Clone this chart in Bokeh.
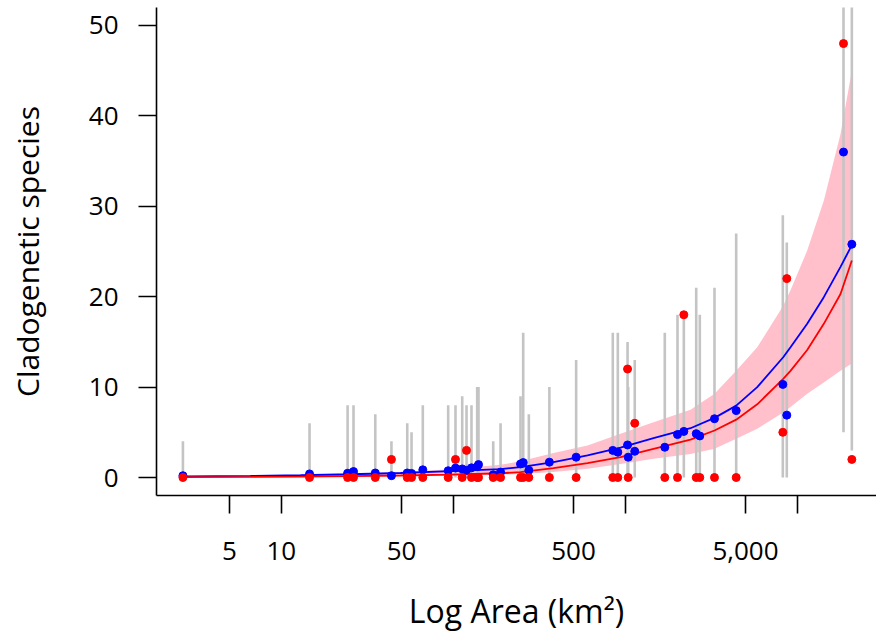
from bokeh.plotting import figure
from bokeh.models import Range1d, FixedTicker
from bokeh.embed import file_html
from bokeh.resources import INLINE

# ---- island data (area km2, observed / predicted cladogenetic species, interval) ----
area = [2.68, 14.6, 24.3, 26.3, 35.2, 43.7, 54.0, 57.2, 66.5, 93.4,
        103, 112.7, 119.4, 127.6, 137.7, 140.2, 170.7, 188.3, 246, 255,
        275, 362, 518, 846, 905, 1031, 1040, 1135, 1697, 2012,
        2190, 2585, 2712, 3301, 4414, 8240, 8690, 18570, 20760]
observed = [0, 0, 0, 0, 0, 2, 0, 0, 0, 0,
            2, 0, 3, 0, 0, 0, 0, 0, 0, 0,
            0, 0, 0, 0, 0, 12, 0, 6, 0, 0,
            18, 0, 0, 0, 0, 5, 22, 48, 2]
predicted = [0.2, 0.4, 0.47, 0.66, 0.5, 0.2, 0.5, 0.45, 0.85, 0.75,
             1.05, 0.95, 0.8, 1.07, 1.2, 1.43, 0.3, 0.6, 1.5, 1.65,
             0.8, 1.7, 2.25, 3.0, 2.8, 3.6, 2.25, 2.9, 3.35, 4.75,
             5.1, 4.85, 4.6, 6.5, 7.4, 10.3, 6.9, 36, 25.8]
interval_low = [0, 0, 0, 0, 0, 0, 0, 0, 0, 0,
                0, 0, 0, 0, 0, 0, 0, 0, 0, 0,
                0, 0, 0, 0, 0, 0, 0, 0, 0, 0,
                0, 0, 0, 0, 0, 0, 0, 5, 3]
interval_high = [4, 6, 8, 8, 7, 4, 6, 5, 8, 8,
                 8, 9, 8, 8, 10, 10, 4, 6, 9, 16,
                 7, 10, 13, 16, 16, 15, 10, 13, 16, 18,
                 18, 21, 18, 21, 27, 29, 26, 60, 60]

# ---- fitted curves and confidence band ----
curve_area = [2.666, 6.62, 12.94, 25.26, 49.33, 96.3, 188.2, 245.9, 382.5, 603.3,
              938.2, 1459, 2394, 3302, 4415, 5849, 8283, 9132, 11420, 14262,
              17840, 20760]
fit_blue = [0.12, 0.17, 0.25, 0.36, 0.5, 0.7, 0.92, 1.15, 1.7, 2.45,
            3.3, 4.35, 5.45, 6.6, 7.95, 10.0, 13.3, 14.4, 17.0, 19.95,
            23.3, 25.7]
fit_red = [0.05, 0.07, 0.1, 0.15, 0.22, 0.33, 0.47, 0.59, 1.03, 1.58,
           2.25, 3.17, 4.2, 5.2, 6.4, 8.1, 10.9, 11.8, 14.1, 17.0,
           20.3, 24.0]
band_high = [0.1, 0.18, 0.27, 0.4, 0.6, 0.9, 1.4, 1.8, 2.7, 3.54,
             4.83, 6.1, 7.5, 9.26, 11.8, 14.4, 19.0, 20.7, 25.1, 30.6,
             38.0, 45.0]
band_low = [0.03, 0.04, 0.06, 0.09, 0.13, 0.2, 0.3, 0.4, 0.6, 0.96,
            1.5, 2.07, 2.6, 3.17, 4.28, 5.4, 7.2, 7.8, 9.26, 10.5,
            11.8, 12.6]

x_ticks = [5, 10, 50, 100, 500, 1000, 5000, 10000]
x_tick_labels = ["5", "10", "50", "", "500", "", "5,000", ""]
y_ticks = [0, 10, 20, 30, 40, 50]

FONT = "Open Sans"

p = figure(width=876, height=634, x_axis_type="log",
           x_range=Range1d(1.8817, 28880), y_range=Range1d(-1.99, 51.99),
           output_backend="svg", toolbar_location=None,
           min_border_left=156, min_border_right=0, min_border_top=7,
           min_border_bottom=139)
p.outline_line_color = None
p.grid.visible = False
p.background_fill_color = "white"

p.varea(x=curve_area, y1=band_low, y2=band_high, fill_color="#ffc0cb")
p.segment(x0=area, y0=interval_low, x1=area, y1=interval_high,
          line_color="#c4c4c4", line_width=2.6)
p.line(curve_area, fit_blue, line_color="#0000ff", line_width=1.8)
p.line(curve_area, fit_red, line_color="#ff0000", line_width=1.8)
p.scatter(area, predicted, size=8, fill_color="#0000ff", line_color="#0000ff")
p.scatter(area, observed, size=8, fill_color="#ff0000", line_color="#ff0000")

for ax in (p.xaxis[0], p.yaxis[0]):
    ax.axis_line_color = "black"
    ax.axis_line_width = 1.6
    ax.major_tick_line_color = "black"
    ax.major_tick_line_width = 1.6
    ax.major_tick_out = 18
    ax.major_tick_in = 0
    ax.minor_tick_out = 0
    ax.minor_tick_in = 0
    ax.major_label_text_font = FONT
    ax.major_label_text_font_size = "26px"
    ax.major_label_text_color = "black"
    ax.axis_label_text_font = FONT
    ax.axis_label_text_font_style = "normal"
    ax.axis_label_text_color = "black"

p.xaxis.axis_label_text_font_size = "32px"
p.yaxis.axis_label_text_font_size = "30px"
p.xaxis.major_label_standoff = 28
p.yaxis.major_label_standoff = 20
p.xaxis.axis_label = "Log Area (km²)"
p.yaxis.axis_label = "Cladogenetic species"
p.xaxis.axis_label_standoff = 26
p.yaxis.axis_label_standoff = 38

p.xaxis.ticker = FixedTicker(ticks=x_ticks)
p.xaxis.major_label_overrides = {t: s for t, s in zip(x_ticks, x_tick_labels)}
p.yaxis.ticker = FixedTicker(ticks=y_ticks)

open("out.html", "w").write(file_html(p, INLINE))
